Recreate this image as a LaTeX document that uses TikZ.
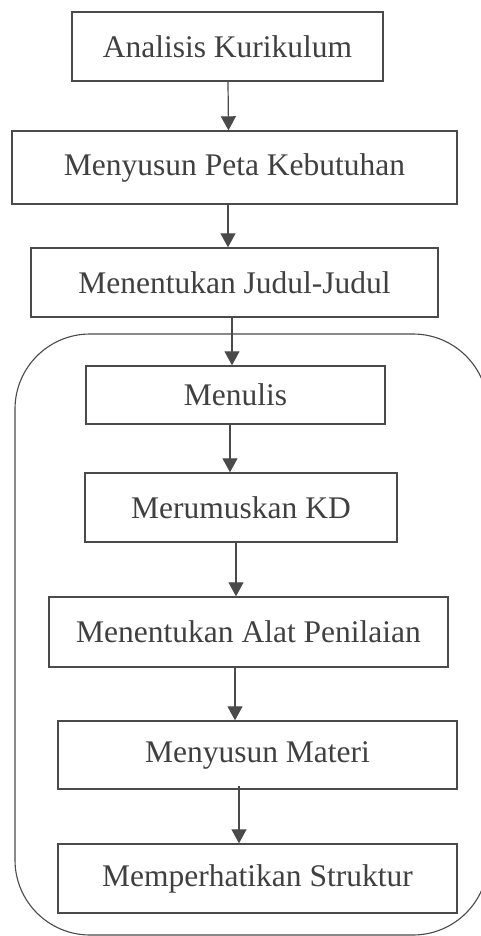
\documentclass[tikz,border=0pt]{standalone}
\usepackage{fontspec}
\setmainfont{Liberation Serif}
\usetikzlibrary{arrows.meta}
\definecolor{ink}{HTML}{4A4A4A}
\definecolor{txt}{HTML}{404040}
\tikzset{
  box/.style={draw=ink, line width=1.4pt, fill=white, rectangle, inner sep=0pt,
    text=txt, font=\fontsize{31.5}{36}\selectfont},
  arr/.style={draw=ink, line width=1.2pt, -{Triangle[width=15pt,length=14pt]}},
  frame/.style={draw=ink, line width=1.1pt, rounded corners=75pt}
}
\begin{document}
\begin{tikzpicture}[x=1pt,y=-1pt]
\useasboundingbox (0,0) rectangle (480,936);
\fill[white] (0,0) rectangle (480,936);
\draw[frame] (15,334) rectangle (488,935);
\node[box, minimum width=311pt, minimum height=69pt] (a) at (227.5,46.5) {Analisis Kurikulum};
\node[box, minimum width=445pt, minimum height=73pt] (b) at (234.5,167.5) {Menyusun Peta Kebutuhan};
\node[box, minimum width=407pt, minimum height=69pt] (c) at (234.5,282.5) {Menentukan Judul-Judul};
\node[box, minimum width=299pt, minimum height=58pt] (d) at (235.5,395) {Menulis};
\node[box, minimum width=312pt, minimum height=69pt] (e) at (241,507.5) {Merumuskan KD};
\node[box, minimum width=399pt, minimum height=70pt] (f) at (248.5,632) {Menentukan Alat Penilaian};
\node[box, minimum width=399pt, minimum height=68pt] (g) at (257.5,755) {Menyusun Materi};
\node[box, minimum width=399pt, minimum height=69pt] (h) at (257.5,878.5) {Memperhatikan Struktur};
\draw[arr] ([xshift=0.5pt]a.south) -- ([xshift=-6pt]b.north);
\draw[arr] ([xshift=-6.5pt]b.south) -- ([xshift=-6.5pt]c.north);
\draw[arr] ([xshift=-2.5pt]c.south) -- ([xshift=-3.5pt]d.north);
\draw[arr] ([xshift=-5.5pt]d.south) -- ([xshift=-11pt]e.north);
\draw[arr] ([xshift=-5pt]e.south) -- ([xshift=-12.5pt]f.north);
\draw[arr] ([xshift=-13.5pt]f.south) -- ([xshift=-22.5pt]g.north);
\draw[arr] ([xshift=-18.5pt,yshift=4pt]g.south) -- ([xshift=-18.5pt]h.north);
\end{tikzpicture}
\end{document}
